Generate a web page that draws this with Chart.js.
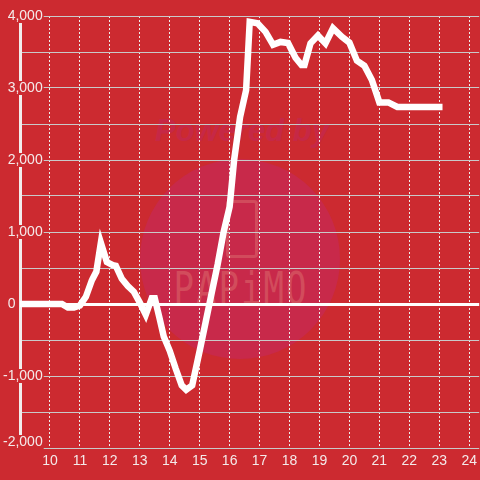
<!DOCTYPE html>
<html>
<head>
<meta charset="utf-8">
<script src="https://cdn.jsdelivr.net/npm/chart.js@4"></script>
<style>
    html, body { margin: 0; padding: 0; background: #cc2a30; overflow: hidden; }
    #wrap { position: relative; width: 480px; height: 480px; overflow: hidden; }
    .mark { position: absolute; }
    #circle { left: 140px; top: 159px; width: 200px; height: 200px; border-radius: 50%; background: #c8294a; }
    #powered { left: 0; width: 484px; top: 113px; text-align: center; font: italic bold 31px "Liberation Sans", sans-serif; color: #c62846; }
    #phone { left: 226px; top: 200px; width: 26px; height: 52px; border: 3px solid #d14b5c; border-radius: 4px; }
    #brand { left: 0; width: 482px; top: 268px; line-height: 34px; text-align: center; font: 300 34px "DejaVu Sans Mono", monospace; color: #d24c5c; letter-spacing: 2px; transform: scaleY(1.3); }
    canvas { position: absolute; left: 0; top: 0; }
</style>
</head>
<body>
<div id="wrap">
    <div class="mark" id="circle"></div>
    <div class="mark" id="powered">Powered by</div>
    <div class="mark" id="phone"></div>
    <div class="mark" id="brand">PAPiMO</div>
    <canvas id="chart" width="480" height="480"></canvas>
</div>
<script>
// hours of the day and the value at each point
const times = [
    9.0, 10.4, 10.6, 10.8, 11.0, 11.2, 11.4, 11.55, 11.7, 11.9,
    12.1, 12.2, 12.4, 12.6, 12.8, 13.0, 13.2, 13.4, 13.5, 13.65,
    13.8, 14.0, 14.2, 14.4, 14.55, 14.75, 15.0, 15.2, 15.4, 15.6,
    15.8, 16.0, 16.15, 16.35, 16.55, 16.67, 16.93, 17.2, 17.45, 17.7,
    17.95, 18.2, 18.4, 18.5, 18.7, 18.95, 19.2, 19.45, 19.75, 20.0,
    20.25, 20.5, 20.75, 21.0, 21.3, 21.6, 23.0
];
const values = [
    0, 0, -50, -50, -20, 100, 330, 450, 850, 583,
    540, 530, 350, 250, 170, 20, -150, 80, 80, -180,
    -450, -650, -900, -1130, -1190, -1130, -650, -250, 150, 550,
    1000, 1350, 2000, 2600, 2970, 3920, 3900, 3780, 3600, 3640,
    3625, 3420, 3320, 3320, 3620, 3730, 3620, 3830, 3710, 3630,
    3380, 3310, 3110, 2800, 2800, 2736, 2736
];
const hourTicks = [10, 11, 12, 13, 14, 15, 16, 17, 18, 19, 20, 21, 22, 23, 24];
const valueTicks = [-2000, -1500, -1000, -500, 0, 500, 1000, 1500, 2000, 2500, 3000, 3500, 4000];
const labelledValues = [-1000, 0, 1000, 2000, 3000, 4000];
const bottomLabel = [-2000];

const BG = '#cc2a30';
const TEXT = '#f4eaea';
const fmt = v => v.toLocaleString('en-US');
const labelFont = { family: 'Liberation Sans', size: 14, lineHeight: '12px' };

new Chart(document.getElementById('chart'), {
    type: 'line',
    data: {
        datasets: [{
            data: times.map((t, i) => ({ x: t, y: values[i] })),
            yAxisID: 'y',
            borderColor: '#ffffff',
            borderWidth: 6.5,
            borderCapStyle: 'square',
            borderJoinStyle: 'miter',
            pointRadius: 0,
            tension: 0,
            fill: false
        }]
    },
    options: {
        responsive: false,
        animation: false,
        layout: { padding: { left: 20, top: 16, right: 0, bottom: 0 } },
        plugins: { legend: { display: false }, tooltip: { enabled: false } },
        scales: {
            x: {
                type: 'linear',
                min: 9,
                max: 9 + 460 / 30,
                afterBuildTicks: s => { s.ticks = hourTicks.map(v => ({ value: v })); },
                afterFit: s => { s.height = 32; },
                grid: { color: '#eeeeee', lineWidth: 1, drawTicks: false },
                border: { display: false, dash: [2, 2] },
                ticks: {
                    color: TEXT,
                    font: { family: 'Liberation Sans', size: 14, lineHeight: '21px' },
                    padding: 3,
                    maxRotation: 0,
                    autoSkip: false
                }
            },
            y: {
                type: 'linear',
                position: 'left',
                min: -2000,
                max: 4000,
                afterBuildTicks: s => { s.ticks = valueTicks.map(v => ({ value: v })); },
                afterFit: s => { s.width = 0; },
                grid: {
                    color: c => c.tick && c.tick.value === 0 ? '#ffffff' : '#c9c9c9',
                    lineWidth: c => c.tick && c.tick.value === 0 ? 3 : 1,
                    drawTicks: false
                },
                border: { display: true, color: '#f2eded', width: 3 },
                ticks: {
                    mirror: true,
                    crossAlign: 'far',
                    padding: -17,
                    color: TEXT,
                    font: labelFont,
                    autoSkip: false,
                    showLabelBackdrop: true,
                    backdropPadding: 1,
                    backdropColor: c => c.tick && c.tick.value !== 0 && labelledValues.includes(c.tick.value) ? BG : 'rgba(0,0,0,0)',
                    callback: v => {
                        if (!labelledValues.includes(v)) return '';
                        return v === 0 ? '0       ' : fmt(v);
                    }
                }
            },
            // the lowest label sits a little above its line
            y2: {
                type: 'linear',
                position: 'left',
                min: -2000,
                max: 4000,
                afterBuildTicks: s => { s.ticks = bottomLabel.map(v => ({ value: v })); },
                afterFit: s => { s.width = 0; },
                grid: { display: false },
                border: { display: false },
                ticks: {
                    z: 1,
                    mirror: true,
                    crossAlign: 'far',
                    padding: -17,
                    labelOffset: -6,
                    color: TEXT,
                    font: labelFont,
                    showLabelBackdrop: true,
                    backdropPadding: 1,
                    backdropColor: BG,
                    callback: v => fmt(v)
                }
            }
        }
    }
});
</script>
</body>
</html>
